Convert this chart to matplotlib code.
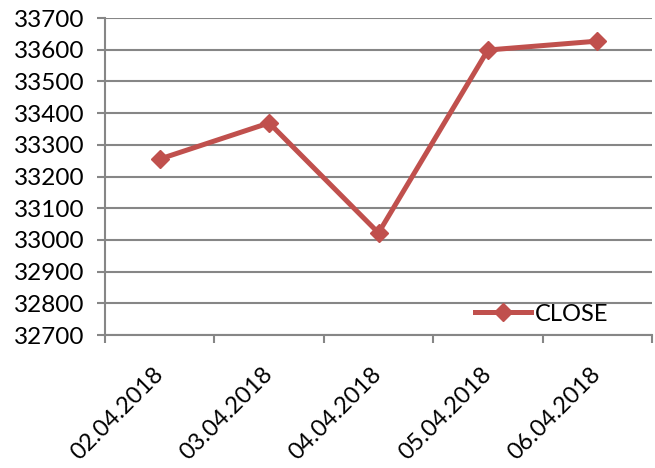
import matplotlib
matplotlib.use("Agg")
import matplotlib.pyplot as plt
import numpy as np

dates = ["02.04.2018", "03.04.2018", "04.04.2018", "05.04.2018", "06.04.2018"]
close = [33255, 33369, 33022, 33599, 33627]
y_ticks = [32700, 32800, 32900, 33000, 33100, 33200, 33300, 33400, 33500, 33600, 33700]

line_color = "#C0504D"
axis_color = "#868686"

plt.rcParams["font.family"] = ["Lato", "DejaVu Sans"]

fig = plt.figure(figsize=(6.55, 4.68), dpi=100)
ax = fig.add_axes([105 / 655, 1 - 335 / 468, 547 / 655, 317 / 468])

x = np.arange(len(dates))
ax.plot(x, close, color=line_color, lw=3.6, marker="D", markersize=9.5,
        label="CLOSE", solid_joinstyle="miter", zorder=3)

ax.set_xlim(-0.5, len(dates) - 0.5)
ax.set_ylim(y_ticks[0], y_ticks[-1])
ax.set_yticks(y_ticks)
ax.set_yticklabels([str(v) for v in y_ticks], fontsize=17.5)
ax.grid(axis="y", color=axis_color, lw=1.5, zorder=1)

ax.set_xticks(x)
ax.set_xticklabels(dates, rotation=45, ha="right", va="center",
                   rotation_mode="anchor", fontsize=17)
ax.set_xticks(np.arange(-0.5, len(dates)), minor=True)
ax.tick_params(axis="x", which="major", length=0, pad=26)
ax.tick_params(axis="x", which="minor", length=6, width=1.5, color=axis_color)
ax.tick_params(axis="y", length=6, width=1.5, color=axis_color, pad=9)

for side in ("top", "right"):
    ax.spines[side].set_visible(False)
for side in ("left", "bottom"):
    ax.spines[side].set_color(axis_color)
    ax.spines[side].set_linewidth(1.5)

ax.legend(loc="center left", bbox_to_anchor=(0.676, 0.066), frameon=False,
          fontsize=17, handlelength=2.4, handletextpad=0.15, borderpad=0,
          borderaxespad=0)

fig.savefig("out.png", dpi=100)
